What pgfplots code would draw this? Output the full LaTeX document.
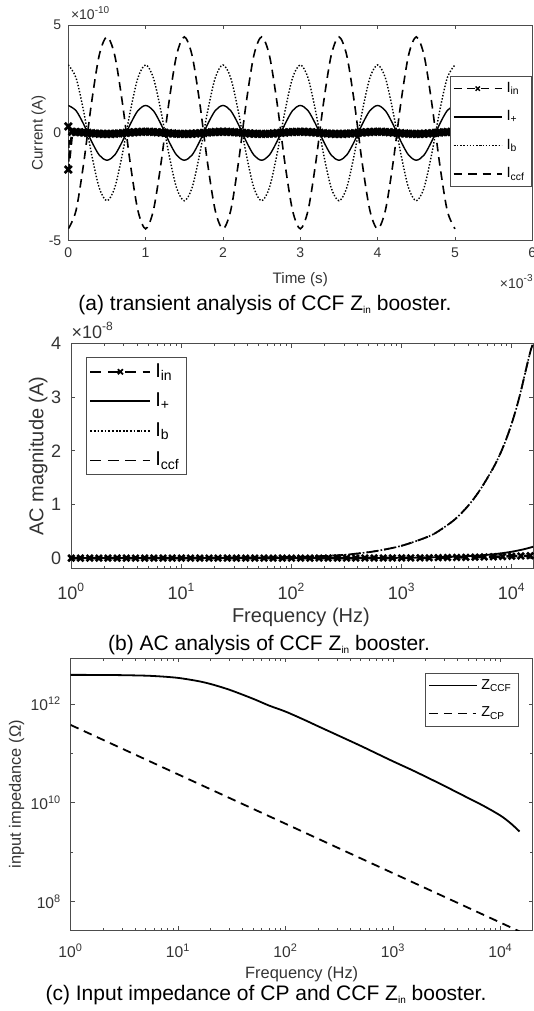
\documentclass[border=0pt]{standalone}
\usepackage{fontspec}
\setmainfont{Liberation Sans}
\usepackage{pgfplots}
\usepackage{pgfplotstable}
\pgfplotsset{compat=1.18}

% ---------- panel (a): transient ----------
\pgfplotstableread{
t ip ib iccf
0.0 1.27 3.15 -4.45
0.1 1.03 2.55 -3.60
0.2 0.39 0.97 -1.38
0.3 -0.39 -0.97 1.38
0.4 -1.03 -2.55 3.60
0.5 -1.27 -3.15 4.45
0.6 -1.03 -2.55 3.60
0.7 -0.39 -0.97 1.38
0.8 0.39 0.97 -1.38
0.9 1.03 2.55 -3.60
1.0 1.27 3.15 -4.45
1.1 1.03 2.55 -3.60
1.2 0.39 0.97 -1.38
1.3 -0.39 -0.97 1.38
1.4 -1.03 -2.55 3.60
1.5 -1.27 -3.15 4.45
1.6 -1.03 -2.55 3.60
1.7 -0.39 -0.97 1.38
1.8 0.39 0.97 -1.38
1.9 1.03 2.55 -3.60
2.0 1.27 3.15 -4.45
2.1 1.03 2.55 -3.60
2.2 0.39 0.97 -1.38
2.3 -0.39 -0.97 1.38
2.4 -1.03 -2.55 3.60
2.5 -1.27 -3.15 4.45
2.6 -1.03 -2.55 3.60
2.7 -0.39 -0.97 1.38
2.8 0.39 0.97 -1.38
2.9 1.03 2.55 -3.60
3.0 1.27 3.15 -4.45
3.1 1.03 2.55 -3.60
3.2 0.39 0.97 -1.38
3.3 -0.39 -0.97 1.38
3.4 -1.03 -2.55 3.60
3.5 -1.27 -3.15 4.45
3.6 -1.03 -2.55 3.60
3.7 -0.39 -0.97 1.38
3.8 0.39 0.97 -1.38
3.9 1.03 2.55 -3.60
4.0 1.27 3.15 -4.45
4.1 1.03 2.55 -3.60
4.2 0.39 0.97 -1.38
4.3 -0.39 -0.97 1.38
4.4 -1.03 -2.55 3.60
4.5 -1.27 -3.15 4.45
4.6 -1.03 -2.55 3.60
4.7 -0.39 -0.97 1.38
4.8 0.39 0.97 -1.38
4.9 1.03 2.55 -3.60
5.0 1.27 3.15 -4.45
}\tranA

\pgfplotstableread{
t iin
0.00 0.30
0.00 -1.70
0.05 0.048
0.10 0.040
0.15 0.029
0.20 0.015
0.25 0.000
0.30 -0.015
0.35 -0.029
0.40 -0.040
0.45 -0.048
0.50 -0.050
0.55 -0.048
0.60 -0.040
0.65 -0.029
0.70 -0.015
0.75 0.000
0.80 0.015
0.85 0.029
0.90 0.040
0.95 0.048
1.00 0.050
1.05 0.048
1.10 0.040
1.15 0.029
1.20 0.015
1.25 0.000
1.30 -0.015
1.35 -0.029
1.40 -0.040
1.45 -0.048
1.50 -0.050
1.55 -0.048
1.60 -0.040
1.65 -0.029
1.70 -0.015
1.75 0.000
1.80 0.015
1.85 0.029
1.90 0.040
1.95 0.048
2.00 0.050
2.05 0.048
2.10 0.040
2.15 0.029
2.20 0.015
2.25 0.000
2.30 -0.015
2.35 -0.029
2.40 -0.040
2.45 -0.048
2.50 -0.050
2.55 -0.048
2.60 -0.040
2.65 -0.029
2.70 -0.015
2.75 0.000
2.80 0.015
2.85 0.029
2.90 0.040
2.95 0.048
3.00 0.050
3.05 0.048
3.10 0.040
3.15 0.029
3.20 0.015
3.25 0.000
3.30 -0.015
3.35 -0.029
3.40 -0.040
3.45 -0.048
3.50 -0.050
3.55 -0.048
3.60 -0.040
3.65 -0.029
3.70 -0.015
3.75 0.000
3.80 0.015
3.85 0.029
3.90 0.040
3.95 0.048
4.00 0.050
4.05 0.048
4.10 0.040
4.15 0.029
4.20 0.015
4.25 0.000
4.30 -0.015
4.35 -0.029
4.40 -0.040
4.45 -0.048
4.50 -0.050
4.55 -0.048
4.60 -0.040
4.65 -0.029
4.70 -0.015
4.75 0.000
4.80 0.015
4.85 0.029
4.90 0.040
4.95 0.048
5.00 0.050
}\tranIin

% ---------- panel (b): AC magnitude (x1e-8 A) ----------
\pgfplotstableread{
f iin
1 0
1.21 0
1.47 0
1.78 0
2.15 0
2.61 0
3.16 0
3.83 0
4.64 0
5.62 0
6.81 0
8.25 0
10 0
12.1 0
14.7 0
17.8 0
21.5 0
26.1 0
31.6 0
38.3 0
46.4 0
56.2 0
68.1 0
82.5 0
100 0
121 0
147 0
178 0.001
215 0.001
261 0.001
316 0.001
383 0.001
464 0.002
562 0.002
681 0.002
825 0.003
1000 0.003
1210 0.004
1470 0.005
1780 0.006
2150 0.008
2610 0.010
3160 0.012
3830 0.014
4640 0.017
5620 0.021
6810 0.025
8250 0.030
10000 0.035
12100 0.040
14700 0.045
}\acIin

\pgfplotstableread{
f ip ib
1 0 0
10 0 0.003
100 0 0.02
200 0 0.04
300 0 0.06
500 0.001 0.11
700 0.002 0.16
1000 0.006 0.23
1500 0.010 0.35
2000 0.015 0.46
3000 0.025 0.71
4000 0.036 0.97
5000 0.048 1.23
6000 0.061 1.49
7000 0.075 1.73
8000 0.089 1.98
9000 0.104 2.24
10000 0.119 2.51
11000 0.135 2.79
12000 0.151 3.08
13000 0.167 3.38
14000 0.184 3.66
15000 0.201 3.90
15700 0.213 4.00
}\acIpb

% ---------- panel (c): input impedance ----------
\pgfplotstableread{
f z
1 3.88e12
2 3.87e12
3 3.83e12
5 3.74e12
7 3.60e12
10 3.37e12
15 2.93e12
20 2.54e12
30 1.94e12
50 1.27e12
70 9.3e11
100 7.0e11
150 4.75e11
200 3.55e11
300 2.37e11
500 1.42e11
700 1.0e11
1000 6.9e10
1500 4.6e10
2000 3.4e10
3000 2.2e10
5000 1.25e10
7000 8.6e9
10000 5.5e9
12500 3.8e9
15000 2.63e9
}\zccf

\pgfplotstableread{
f z
1 3.76e11
10 3.76e10
100 3.76e9
1000 3.76e8
10000 3.76e7
15000 2.5e7
}\zcp

\pgfplotsset{
  every axis/.append style={
    scale only axis, anchor=south west,
    axis line style={black!70, line width=0.5pt},
    tick style={black!70, line width=0.4pt},
    major tick length=2pt, minor tick length=1.2pt,
    tick label style={text=black!80},
    label style={text=black!80},
    /pgf/number format/assume math mode=true,
    legend cell align=left,
    clip=true,
  },
}

\begin{document}
\begin{tikzpicture}

% ===== (a) =====
\begin{axis}[
  at={(34.15pt,-120.35pt)}, width=232pt, height=107.85pt,
  xmin=0, xmax=6, ymin=-5, ymax=5,
  xtick={0,1,2,3,4,5,6}, ytick={-5,0,5},
  tick label style={font=\fontsize{7}{8}\selectfont},
  xlabel={Time (s)}, ylabel={Current (A)},
  label style={font=\fontsize{7.6}{9}\selectfont},
  xlabel style={at={(axis description cs:0.5,-0.178)}, anchor=center},
  ylabel style={at={(axis description cs:-0.064,0.5)}, anchor=center},
  legend style={at={(axis description cs:1,0.765)}, anchor=north east,
    font=\fontsize{7.4}{8}\selectfont, draw=black!70, fill=white,
    inner xsep=1.5pt, inner ysep=1pt, row sep=3.6pt},
  legend image code/.code={\draw[mark repeat=2,mark phase=2,#1] plot coordinates {(0pt,0pt) (12pt,0pt) (24pt,0pt)};},
]
\addplot[black, line width=1.3pt, dash pattern=on 4pt off 2.8pt, mark=x, mark size=2.5pt, mark options={solid},
  legend image post style={line width=0.7pt, mark size=1.5pt}] table[x=t,y=iin]{\tranIin};
\addlegendentry{I\textsubscript{in}}
\addplot[black, line width=0.7pt, smooth] table[x=t,y=ip]{\tranA};
\addlegendentry{I\textsubscript{+}}
\addplot[black, line width=0.7pt, dash pattern=on 0.7pt off 0.9pt, smooth] table[x=t,y=ib]{\tranA};
\addlegendentry{I\textsubscript{b}}
\addplot[black, line width=0.8pt, dash pattern=on 4.3pt off 2.9pt, smooth] table[x=t,y=iccf]{\tranA};
\addlegendentry{I\textsubscript{ccf}}
\end{axis}

% ===== (b) =====
\begin{axis}[
  at={(35.65pt,-284.15pt)}, width=231pt, height=112.4pt,
  xmode=log, xmin=1, xmax=1.57e4, ymin=-0.19, ymax=4,
  xtick={1,10,100,1000,10000},
  xticklabels={10\textsuperscript{0},10\textsuperscript{1},10\textsuperscript{2},10\textsuperscript{3},10\textsuperscript{4}},
  minor xtick={2,3,4,5,6,7,8,9,20,30,40,50,60,70,80,90,200,300,400,500,600,700,800,900,2000,3000,4000,5000,6000,7000,8000,9000},
  ytick={0,1,2,3,4},
  tick label style={font=\fontsize{9}{10}\selectfont},
  xticklabel style={yshift=-4pt},
  yticklabel style={xshift=-1.5pt},
  xlabel={Frequency (Hz)}, ylabel={AC magnitude (A)},
  label style={font=\fontsize{10}{12}\selectfont},
  xlabel style={at={(axis description cs:0.497,-0.217)}, anchor=center},
  ylabel style={at={(axis description cs:-0.0715,0.5)}, anchor=center},
  legend style={at={(axis description cs:0.032,0.94)}, anchor=north west,
    font=\fontsize{10}{11}\selectfont, draw=black!70, fill=white,
    inner xsep=1.5pt, inner ysep=1pt, row sep=2.4pt},
  legend image code/.code={\draw[mark repeat=2,mark phase=2,#1] plot coordinates {(0pt,0pt) (15pt,0pt) (30pt,0pt)};},
]
\addplot[black, line width=1.3pt, dash pattern=on 5.5pt off 3.2pt, mark=x, mark size=2.2pt, mark options={solid},
  legend image post style={line width=0.9pt, mark size=1.8pt}] table[x=f,y=iin]{\acIin};
\addlegendentry{I\textsubscript{in}}
\addplot[black, line width=0.9pt, smooth] table[x=f,y=ip]{\acIpb};
\addlegendentry{I\textsubscript{+}}
\addplot[black, line width=0.8pt, dash pattern=on 0.8pt off 1pt, smooth] table[x=f,y=ib]{\acIpb};
\addlegendentry{I\textsubscript{b}}
\addplot[black, line width=0.9pt, dash pattern=on 5.5pt off 3.2pt, smooth] table[x=f,y=ib]{\acIpb};
\addlegendentry{I\textsubscript{ccf}}
\end{axis}

% ===== (c) =====
\begin{axis}[
  at={(35.35pt,-465pt)}, width=231pt, height=135.85pt,
  xmode=log, ymode=log, xmin=1, xmax=1.99e4, ymin=2.67e7, ymax=8.4e12,
  xtick={1,10,100,1000,10000},
  xticklabels={10\textsuperscript{0},10\textsuperscript{1},10\textsuperscript{2},10\textsuperscript{3},10\textsuperscript{4}},
  minor xtick={2,3,4,5,6,7,8,9,20,30,40,50,60,70,80,90,200,300,400,500,600,700,800,900,2000,3000,4000,5000,6000,7000,8000,9000},
  ytick={1e8,1e10,1e12},
  yticklabels={10\textsuperscript{8},10\textsuperscript{10},10\textsuperscript{12}},
  minor ytick={1e9,1e11},
  tick label style={font=\fontsize{7.8}{9}\selectfont},
  xticklabel style={yshift=-3.5pt},
  yticklabel style={xshift=-1.2pt},
  xlabel={Frequency (Hz)}, ylabel={input impedance (Ω)},
  label style={font=\fontsize{8.2}{10}\selectfont},
  xlabel style={at={(axis description cs:0.5,-0.163)}, anchor=center},
  ylabel style={at={(axis description cs:-0.117,0.5)}, anchor=center},
  legend style={at={(axis description cs:0.971,0.947)}, anchor=north east,
    font=\fontsize{7.2}{8}\selectfont, draw=black!70, fill=white,
    inner xsep=1.5pt, inner ysep=1pt, row sep=3.5pt},
  legend image code/.code={\draw[#1] plot coordinates {(0pt,0pt) (23.5pt,0pt)};},
]
\addplot[black, line width=0.9pt, smooth] table[x=f,y=z]{\zccf};
\addlegendentry{Z\textsubscript{CCF}}
\addplot[black, line width=0.9pt, dash pattern=on 4.3pt off 2.9pt] table[x=f,y=z]{\zcp};
\addlegendentry{Z\textsubscript{CP}}
\end{axis}

% multipliers
\node[anchor=base west, inner sep=0, text=black!80, font=\fontsize{7}{8}\selectfont] at (35.3pt,-10pt) {×10\textsuperscript{-10}};
\node[anchor=base east, inner sep=0, text=black!80, font=\fontsize{7}{8}\selectfont] at (267pt,-144pt) {×10\textsuperscript{-3}};
\node[anchor=base west, inner sep=0, text=black!80, font=\fontsize{9}{10}\selectfont] at (35.6pt,-169pt) {×10\textsuperscript{-8}};

% captions
\node[font=\fontsize{10.5}{12}\selectfont] at (132.5pt,-152.5pt) {(a) transient analysis of CCF Z\raisebox{-0.3ex}{\fontsize{5}{5}\selectfont in} booster.};
\node[font=\fontsize{10.5}{12}\selectfont] at (134.5pt,-322.5pt) {(b) AC analysis of CCF Z\raisebox{-0.3ex}{\fontsize{5}{5}\selectfont in} booster.};
\node[font=\fontsize{10.5}{12}\selectfont] at (133pt,-497.5pt) {(c) Input impedance of CP and CCF Z\raisebox{-0.3ex}{\fontsize{5}{5}\selectfont in} booster.};

\pgfresetboundingbox
\path[use as bounding box] (0pt,0pt) rectangle (267pt,-505.5pt);
\end{tikzpicture}
\end{document}
